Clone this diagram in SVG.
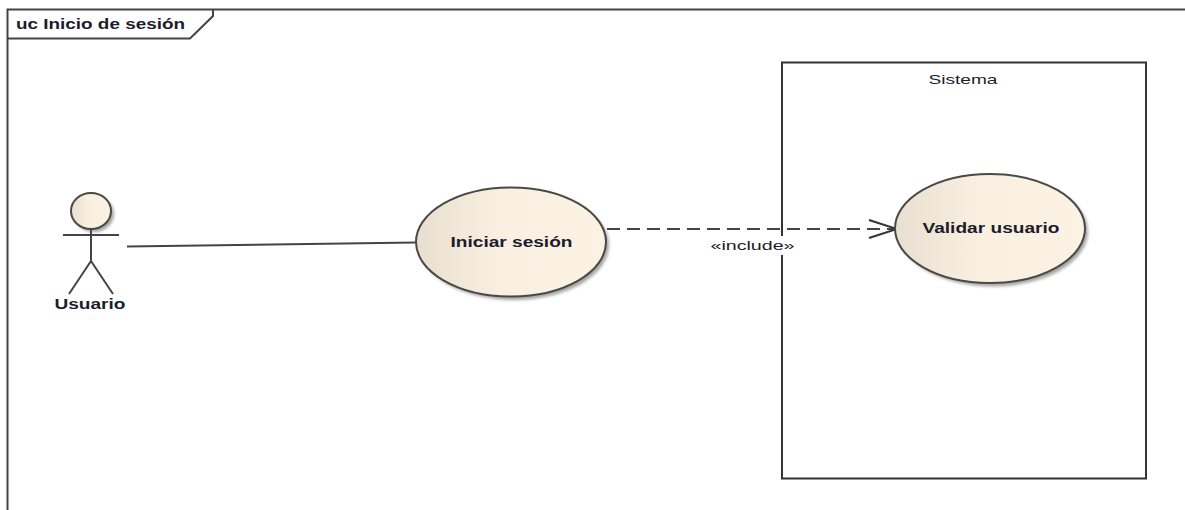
<svg xmlns="http://www.w3.org/2000/svg" width="1185" height="510" viewBox="0 0 1185 510">
<defs>
<linearGradient id="fill" x1="0" y1="0" x2="1" y2="0"><stop offset="0" stop-color="#e8dfd0"/><stop offset="0.45" stop-color="#f9f0e2"/><stop offset="1" stop-color="#fbf2e4"/></linearGradient>
<filter id="sh" x="-10%" y="-10%" width="125%" height="125%"><feGaussianBlur stdDeviation="1.5"/></filter>
<marker id="open" markerUnits="userSpaceOnUse" markerWidth="32" markerHeight="24" refX="29" refY="12" orient="auto"><path d="M1 3L29 12L1 21" fill="none" stroke="#333" stroke-width="2"/></marker>
</defs>
<style>
.line{stroke:#444;stroke-width:2;fill:none}
.uc{fill:url(#fill);stroke:#4a4a44;stroke-width:2}
.shadow{fill:#888;opacity:.75;filter:url(#sh)}
text{font-family:"Liberation Sans",Arial,sans-serif;fill:#1c1c2c}
.b{font-weight:bold;font-size:14.500px}
.n{font-size:13.500px}
</style>
<rect width="1185" height="510" fill="#fff"/>
<g id="frame">
<path class="line" d="M7.500 510V9.500H1185"/>
<path class="line" d="M7.500 38.500H190L213 16V9.500"/>
<text class="b" x="16" y="29" textLength="169" lengthAdjust="spacingAndGlyphs">uc Inicio de sesión</text>
</g>
<g id="sistema">
<rect x="782" y="62.500" width="364" height="416" fill="#fff" stroke="#333" stroke-width="2"/>
<text class="n" x="963" y="84" text-anchor="middle" textLength="69" lengthAdjust="spacingAndGlyphs">Sistema</text>
</g>
<g id="connectors">
<path class="line" d="M127 246.500L416 242.500"/>
<path class="line" d="M607 229H897" stroke-dasharray="13 7" marker-end="url(#open)"/>
<rect x="709" y="236" width="87" height="19" fill="#fff"/>
<text class="n" x="752.500" y="250" text-anchor="middle" textLength="84" lengthAdjust="spacingAndGlyphs">«include»</text>
</g>
<g id="usuario">
<ellipse class="shadow" cx="94" cy="214" rx="20" ry="18"/>
<ellipse class="uc" cx="91" cy="211" rx="20" ry="18"/>
<path class="line" d="M63 235H119M91 229V261M91 261L69 294M91 261L113 294"/>
<text class="b" x="90" y="309" text-anchor="middle" textLength="71" lengthAdjust="spacingAndGlyphs">Usuario</text>
</g>
<g id="iniciar">
<ellipse class="shadow" cx="514" cy="245" rx="95" ry="55"/>
<ellipse class="uc" cx="511" cy="242" rx="95" ry="54.500"/>
<text class="b" x="511.500" y="247" text-anchor="middle" textLength="122" lengthAdjust="spacingAndGlyphs">Iniciar sesión</text>
</g>
<g id="validar">
<ellipse class="shadow" cx="993" cy="231.500" rx="95" ry="55"/>
<ellipse class="uc" cx="990" cy="228.500" rx="95" ry="54.500"/>
<text class="b" x="991" y="233" text-anchor="middle" textLength="137" lengthAdjust="spacingAndGlyphs">Validar usuario</text>
</g>
</svg>
